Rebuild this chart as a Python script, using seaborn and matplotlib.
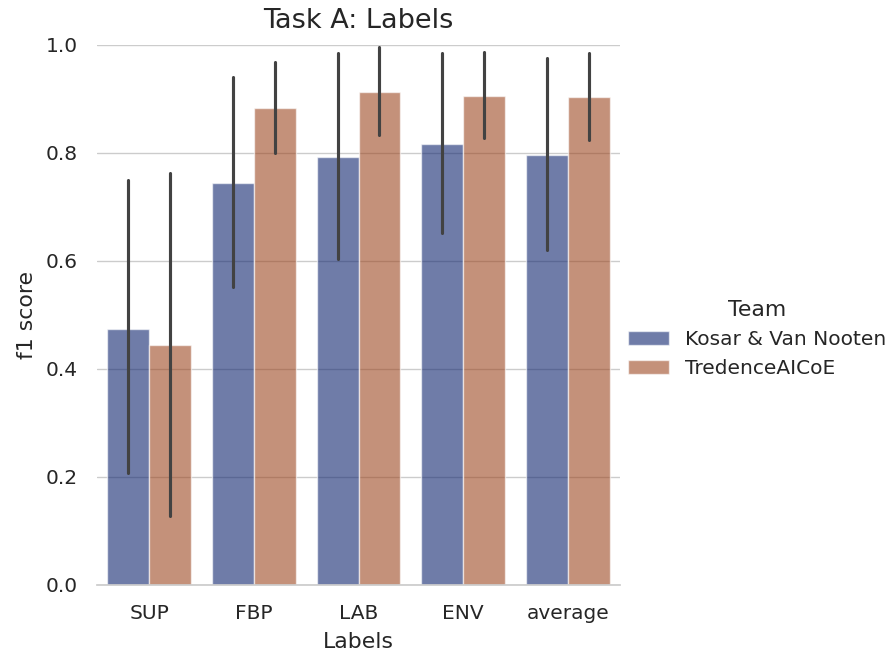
import matplotlib
matplotlib.use("Agg")
import matplotlib.pyplot as plt
import seaborn as sns
import pandas as pd

labels = ["SUP", "FBP", "LAB", "ENV", "average"]
teams = ["Kosar & Van Nooten", "TredenceAICoE"]

kosar_f1 = [0.474, 0.744, 0.793, 0.817, 0.796]
kosar_low = [0.207, 0.552, 0.604, 0.652, 0.620]
kosar_high = [0.750, 0.941, 0.985, 0.985, 0.976]

tredence_f1 = [0.444, 0.883, 0.913, 0.906, 0.904]
tredence_low = [0.128, 0.800, 0.833, 0.828, 0.824]
tredence_high = [0.763, 0.969, 0.996, 0.987, 0.985]

rows = []
for team, f1, lo, hi in [(teams[0], kosar_f1, kosar_low, kosar_high),
                         (teams[1], tredence_f1, tredence_low, tredence_high)]:
    for lab, m, l, h in zip(labels, f1, lo, hi):
        for v in (l, m, h):
            rows.append({"Labels": lab, "Team": team, "f1 score": v})
df = pd.DataFrame(rows)

sns.set_theme(style="whitegrid", font_scale=1.32)
plt.rcParams["font.family"] = ["DejaVu Sans"]
plt.rcParams["xtick.major.pad"] = 8
plt.rcParams["ytick.major.pad"] = 8
plt.rcParams["axes.labelpad"] = 6

fig = plt.figure(figsize=(8.96, 6.55), dpi=100)
ax = fig.add_axes([97 / 896, 1 - 585 / 655, (620 - 97) / 896, (585 - 45) / 655])

sns.barplot(data=df, x="Labels", y="f1 score", hue="Team", order=labels,
            hue_order=teams, palette="dark", alpha=.6,
            estimator="median", errorbar=lambda v: (min(v), max(v)), ax=ax)

ax.set_ylim(0, 1.0)
ax.set_xlim(-0.5, 4.5)
ax.set_title("Task A: Labels", fontsize=19.5, pad=12)
sns.despine(ax=ax, left=True)
sns.move_legend(ax, "center left", bbox_to_anchor=(0.981, 0.455), frameon=False,
                title="Team")

fig.savefig("out.png", dpi=100)
